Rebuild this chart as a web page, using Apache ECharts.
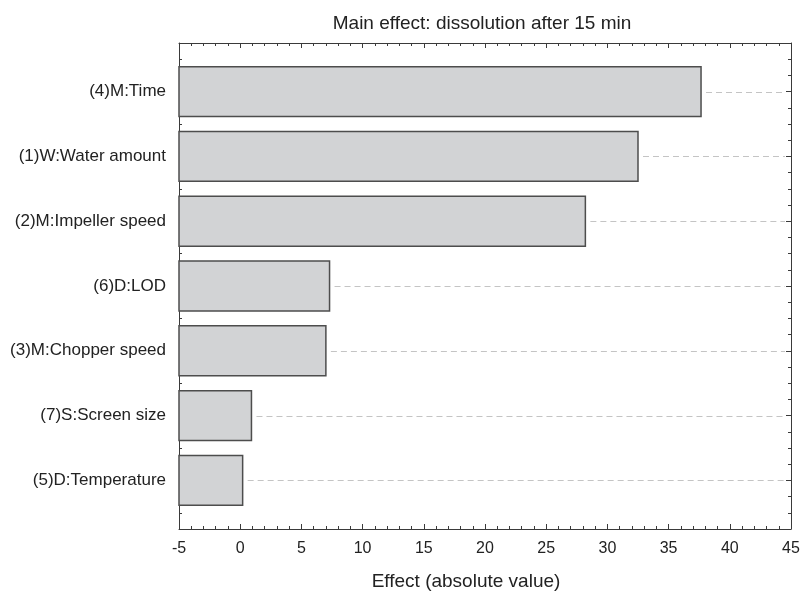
<!DOCTYPE html>
<html>
<head>
<meta charset="utf-8">
<script src="https://cdn.jsdelivr.net/npm/echarts@6/dist/echarts.min.js"></script>
<style>html,body{margin:0;padding:0;background:#fff}#c{width:802px;height:592px}</style>
</head>
<body>
<div id="c"></div>
<script>
const title = 'Main effect: dissolution after 15 min';
const xAxisName = 'Effect (absolute value)';
const categories = ['(4)M:Time', '(1)W:Water amount', '(2)M:Impeller speed', '(6)D:LOD', '(3)M:Chopper speed', '(7)S:Screen size', '(5)D:Temperature'];
const effects = [37.65, 32.5, 28.2, 7.3, 7.0, 0.92, 0.2];
const X_MIN = -5, X_MAX = 45, X_STEP = 5;

const positions = categories.map((c, i) => i + 1);
const quarterTicks = [];
for (let q = 1; q <= 31; q++) quarterTicks.push(q * 0.25);

const font = 'Liberation Sans, Arial, Helvetica, sans-serif';
const frameColor = '#3a3a3a';
const Y_MIN = 0.25, Y_MAX = categories.length + 0.75;

const chart = echarts.init(document.getElementById('c'));

function yAx(pos, major, showLabel, showLine) {
  return {
    type: 'value', position: pos, inverse: true, min: Y_MIN, max: Y_MAX,
    axisLine: { show: showLine, onZero: false, lineStyle: { color: frameColor, width: 1 } },
    axisTick: { show: true, inside: true, length: major ? 5 : 3, customValues: major ? positions : quarterTicks,
      lineStyle: { color: frameColor, width: 1 } },
    axisLabel: { show: showLabel, customValues: positions, margin: 13, fontSize: 17, fontFamily: font, color: '#222',
      formatter: v => categories[Math.round(v) - 1] || '' },
    splitLine: { show: false }
  };
}
function xAx(pos, showLabel) {
  return {
    type: 'value', position: pos, min: X_MIN, max: X_MAX, interval: X_STEP,
    name: showLabel ? xAxisName : '', nameLocation: 'middle', nameGap: 43,
    nameTextStyle: { fontSize: 19, fontFamily: font, color: '#222', padding: [0, 38, 0, 0] },
    axisLine: { show: true, onZero: false, lineStyle: { color: frameColor, width: 1 } },
    axisTick: { show: true, inside: true, length: 5, lineStyle: { color: frameColor } },
    minorTick: { show: true, splitNumber: 5, length: 3, lineStyle: { color: frameColor } },
    axisLabel: { show: showLabel, margin: 12, fontSize: 16, fontFamily: font, color: '#222' },
    splitLine: { show: false }, minorSplitLine: { show: false }
  };
}

chart.setOption({
  animation: false,
  backgroundColor: '#fff',
  title: { text: title, left: 477, top: 9, textAlign: 'center',
    textStyle: { fontSize: 19, fontWeight: 'normal', fontFamily: font, color: '#222' } },
  grid: { left: 179, right: 11, top: 43, bottom: 63, containLabel: false, outerBoundsMode: 'none' },
  xAxis: [xAx('bottom', true), xAx('top', false)],
  yAxis: [yAx('left', true, true, true), yAx('left', false, false, false), yAx('right', true, false, true), yAx('right', false, false, false)],
  series: [{
    type: 'custom',
    xAxisIndex: 0, yAxisIndex: 0,
    data: effects.map((v, i) => [v, positions[i]]),
    encode: { x: 0, y: 1 },
    renderItem: function (params, api) {
      const v = api.value(0), p = api.value(1);
      const s = api.coord([X_MIN, p]);
      const e = api.coord([v, p]);
      const r = api.coord([X_MAX, p]);
      const h = api.size([0, 0.77])[1];
      const y = Math.round(e[1]) + 0.5;
      return {
        type: 'group',
        children: [
          { type: 'line', shape: { x1: e[0] + 5, y1: y, x2: r[0] - 6, y2: y },
            style: { stroke: '#c4c4c4', lineWidth: 1, lineDash: [6, 4] } },
          { type: 'rect', shape: { x: s[0], y: e[1] - h / 2, width: e[0] - s[0], height: h },
            style: { fill: '#d2d3d5', stroke: '#4d4d4d', lineWidth: 1.5 } }
        ]
      };
    }
  }]
});
</script>
</body>
</html>
